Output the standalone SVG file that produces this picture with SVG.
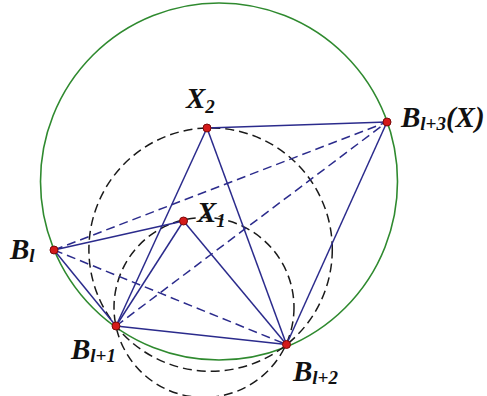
<svg xmlns="http://www.w3.org/2000/svg" width="487" height="396" viewBox="0 0 487 396">
<style>
.circ{fill:none;stroke:#2f8a2f;stroke-width:1.6}
.aux{fill:none;stroke:#1a1a1a;stroke-width:1.5;stroke-dasharray:9 5}
.seg{stroke:#2b2b8c;stroke-width:1.5;fill:none}
.dseg{stroke:#2b2b8c;stroke-width:1.5;fill:none;stroke-dasharray:9 5}
.pt{fill:#d41a1a;stroke:#7a0a0a;stroke-width:1}
.lbl{font-family:"Liberation Serif","Times New Roman",serif;font-weight:bold;font-style:italic;font-size:29px;fill:#111}
.sub{font-size:19px}
</style>
<rect width="487" height="396" fill="#fff"/>
<g id="circles">
<circle class="circ" cx="219" cy="181.5" r="178.5"/>
<circle class="aux" cx="210.6" cy="249.6" r="121.7"/>
<circle class="aux" cx="204" cy="307.5" r="90"/>
</g>
<g id="connectors">
<line class="seg" x1="207" y1="128" x2="387" y2="122"/>
<line class="seg" x1="207" y1="128" x2="116" y2="326"/>
<line class="seg" x1="207" y1="128" x2="286.5" y2="344.5"/>
<line class="seg" x1="387" y1="122" x2="286.5" y2="344.5"/>
<line class="seg" x1="54" y1="250" x2="183.5" y2="221"/>
<line class="seg" x1="54" y1="250" x2="116" y2="326"/>
<line class="seg" x1="183.5" y1="221" x2="116" y2="326"/>
<line class="seg" x1="183.5" y1="221" x2="286.5" y2="344.5"/>
<line class="seg" x1="116" y1="326" x2="286.5" y2="344.5"/>
<line class="dseg" x1="54" y1="250" x2="387" y2="122"/>
<line class="dseg" x1="116" y1="326" x2="387" y2="122"/>
<line class="dseg" x1="54" y1="250" x2="286.5" y2="344.5"/>
</g>
<g id="node-X2">
<circle class="pt" cx="207" cy="128" r="4"/>
<text class="lbl" x="186" y="108">X<tspan class="sub" dy="5">2</tspan></text>
</g>
<g id="node-Bl3">
<circle class="pt" cx="387" cy="122" r="4"/>
<text class="lbl" x="401" y="127">B<tspan class="sub" dy="3">l+3</tspan><tspan dy="-3">(X)</tspan></text>
</g>
<g id="node-X1">
<circle class="pt" cx="183.5" cy="221" r="4"/>
<text class="lbl" x="197" y="222">X<tspan class="sub" dy="5">1</tspan></text>
</g>
<g id="node-Bl">
<circle class="pt" cx="54" cy="250" r="4"/>
<text class="lbl" x="10" y="259">B<tspan class="sub" dy="3">l</tspan></text>
</g>
<g id="node-Bl1">
<circle class="pt" cx="116" cy="326" r="4"/>
<text class="lbl" x="71" y="359">B<tspan class="sub" dy="3">l+1</tspan></text>
</g>
<g id="node-Bl2">
<circle class="pt" cx="286.5" cy="344.5" r="4"/>
<text class="lbl" x="293" y="381">B<tspan class="sub" dy="3">l+2</tspan></text>
</g>
</svg>
